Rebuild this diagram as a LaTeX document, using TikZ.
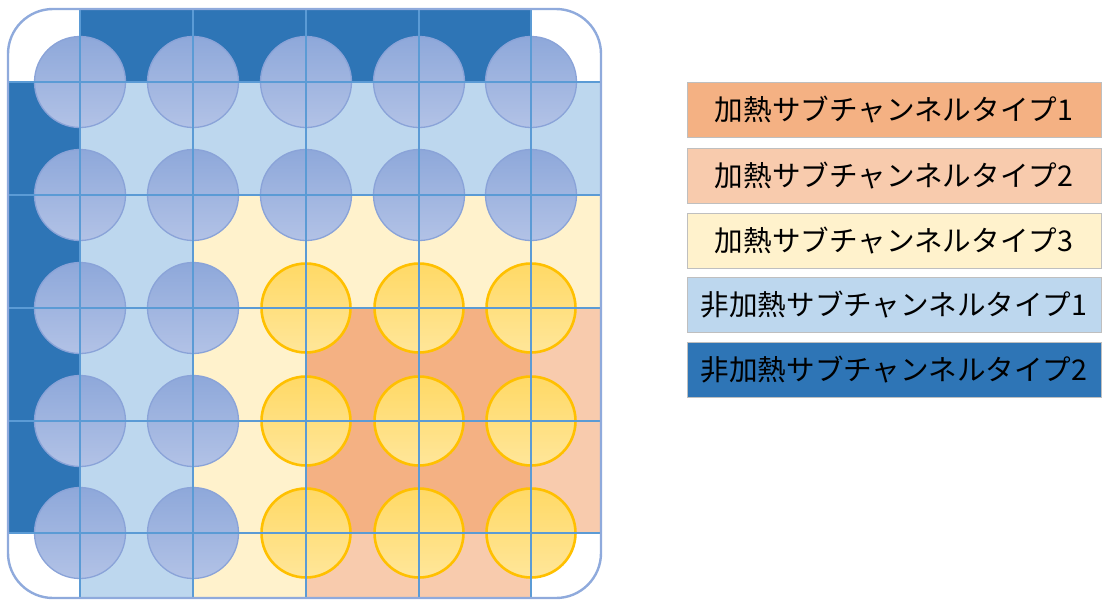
\documentclass[tikz,border=0pt]{standalone}
\usepackage{fontspec}
\newfontfamily\jp{Noto Sans CJK JP}
\definecolor{dblue}{HTML}{2E75B6}
\definecolor{lblue}{HTML}{BDD7EE}
\definecolor{cream}{HTML}{FFF2CC}
\definecolor{orng}{HTML}{F4B183}
\definecolor{peach}{HTML}{F8CBAD}
\definecolor{gridc}{HTML}{5B9BD5}
\definecolor{frame}{HTML}{8FAADC}
\definecolor{pinb}{HTML}{8AA3D8}
\definecolor{pinbt}{HTML}{8EA8DA}
\definecolor{pinbb}{HTML}{B2C2E6}
\definecolor{pino}{HTML}{FFC000}
\definecolor{pinot}{HTML}{FFD966}
\definecolor{pinob}{HTML}{FFE699}
\definecolor{legline}{HTML}{BFBFBF}
\tikzset{
  bluepin/.style={circle, minimum size=91pt, inner sep=0pt, draw=pinb, line width=1.3pt, top color=pinbt, bottom color=pinbb},
  orangepin/.style={circle, minimum size=89pt, inner sep=0pt, draw=pino, line width=2.6pt, top color=pinot, bottom color=pinob},
  gridline/.style={draw=gridc, line width=1.4pt},
  legbox/.style={rectangle, draw=legline, line width=0.9pt, minimum width=414pt, minimum height=55pt, inner sep=0pt, font=\jp\fontsize{28.6}{30}\selectfont, text=black},
}
\begin{document}
\begin{tikzpicture}[x=1pt,y=-1pt]
\useasboundingbox (0,0) rectangle (1102,600);
\begin{scope}
\clip[rounded corners=45pt] (8,9) rectangle (601,598);
% row 0
\fill[white] (8,9) rectangle (80,82);
\fill[dblue] (80,9) rectangle (531,82);
\fill[white] (531,9) rectangle (601,82);
% left column
\fill[dblue] (8,82) rectangle (80,533);
\fill[white] (8,533) rectangle (80,598);
% light blue
\fill[lblue] (80,82) rectangle (601,195);
\fill[lblue] (80,195) rectangle (193,598);
% cream
\fill[cream] (193,195) rectangle (601,308);
\fill[cream] (193,308) rectangle (306,598);
% orange type 1
\fill[orng] (306,308) rectangle (531,533);
% peach type 2
\fill[peach] (531,308) rectangle (601,533);
\fill[peach] (306,533) rectangle (531,598);
\fill[white] (531,533) rectangle (601,598);
% pins
\foreach \c/\x in {0/80,1/193,2/306,3/419,4/531}{
  \node[bluepin] (b0\c) at (\x,82) {};
  \node[bluepin] (b1\c) at (\x,195) {};
}
\foreach \r/\y in {2/308,3/421,4/533}{
  \node[bluepin] (b\r0) at (80,\y) {};
  \node[bluepin] (b\r1) at (193,\y) {};
  \node[orangepin] (o\r2) at (306,\y) {};
  \node[orangepin] (o\r3) at (419,\y) {};
  \node[orangepin] (o\r4) at (531,\y) {};
}
% grid
\foreach \x in {80,193,306,419,531}{ \draw[gridline] (\x,9) -- (\x,598); }
\foreach \y in {82,195,308,421,533}{ \draw[gridline] (8,\y) -- (601,\y); }
\end{scope}
\draw[frame, line width=2.4pt, rounded corners=45pt] (8,9) rectangle (601,598);
% legend
\node[legbox, fill=orng] (l1) at (894,109.5) {加熱サブチャンネルタイプ1};
\node[legbox, fill=peach] (l2) at (894,176) {加熱サブチャンネルタイプ2};
\node[legbox, fill=cream] (l3) at (894,240.5) {加熱サブチャンネルタイプ3};
\node[legbox, fill=lblue] (l4) at (894,304.5) {非加熱サブチャンネルタイプ1};
\node[legbox, fill=dblue] (l5) at (894,370) {非加熱サブチャンネルタイプ2};
\end{tikzpicture}
\end{document}
